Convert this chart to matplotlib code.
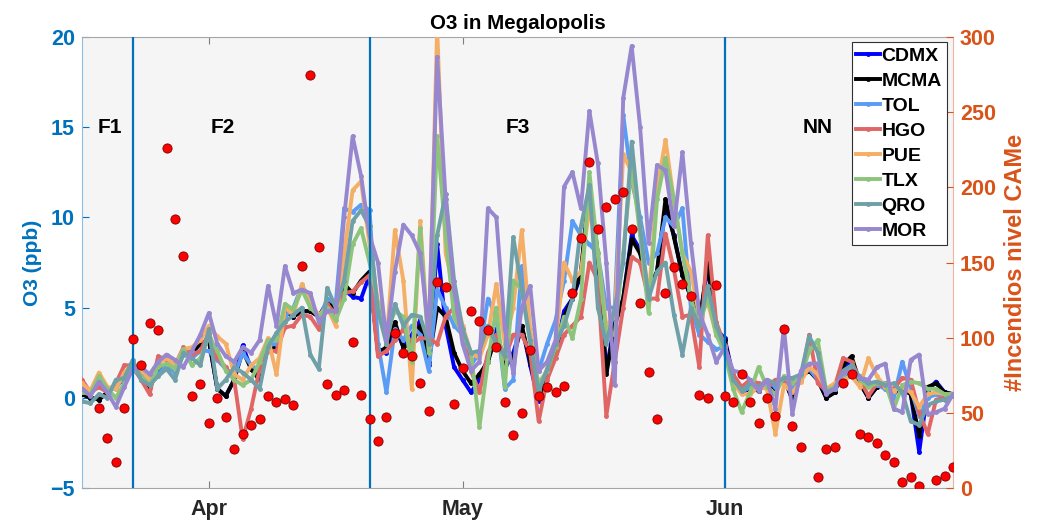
import numpy as np
import pandas as pd
import matplotlib
matplotlib.use("Agg")
import matplotlib.pyplot as plt

plt.rcParams['font.family'] = ['Liberation Sans', 'DejaVu Sans']
plt.rcParams['font.weight'] = 'bold'

# ---- data -----------------------------------------------------------------
start_date = "2019-03-17"
n_days = 104

CDMX = [0.2, 0.0, -0.1, 0.3, 0.7, 1.0, 1.6, 1.2, 0.6, 1.5, 1.8, 1.6, 2.6, 2.5, 3.0, 3.2,
        0.5, 0.1, 1.0, 2.9, 1.6, 1.0, 2.8, 2.8, 4.8, 4.5, 4.8, 4.8, 4.5, 5.3, 5.0, 6.0,
        5.6, 5.5, 6.8, 2.7, 2.5, 4.0, 2.8, 3.5, 4.3, 1.8, 8.5, 4.0, 1.7, 1.0, 0.3, 1.0,
        2.2, 3.8, 1.6, 2.5, 4.0, 1.8, -0.2, 1.2, 2.5, 4.8, 5.5, 6.8, 11.5, 7.5, 1.5, 4.2,
        5.5, 9.0, 8.2, 6.0, 7.0, 10.5, 9.0, 6.8, 5.6, 4.1, 7.3, 3.8, 3.3, 1.2, 0.5, 0.5,
        0.4, 0.8, 0.5, 1.1, -0.1, 1.2, 1.5, 1.0, 0.0, 0.3, 1.6, 2.0, 0.8, 0.0, 0.6, 0.8,
        0.3, 0.5, 0.2, -3.0, 0.4, 0.9, 0.3, 0.2]
MCMA = [0.2, 0.0, -0.1, 0.3, 0.7, 1.0, 1.6, 1.2, 0.6, 1.5, 1.8, 1.6, 2.6, 2.5, 3.0, 3.2,
        0.5, 0.1, 1.0, 2.6, 1.6, 1.0, 2.8, 2.8, 4.8, 4.5, 4.8, 4.8, 4.5, 5.3, 5.0, 6.3,
        5.8, 6.5, 7.0, 2.5, 2.8, 4.2, 2.8, 3.0, 4.0, 2.0, 5.0, 4.5, 2.5, 1.5, 0.8, 1.3,
        2.0, 3.5, 2.0, 2.2, 4.0, 2.0, 0.0, 1.2, 2.5, 4.5, 5.5, 7.0, 11.8, 8.0, 1.3, 4.0,
        5.5, 8.8, 8.0, 6.0, 7.0, 11.0, 8.9, 6.8, 5.6, 4.1, 7.5, 3.6, 3.2, 1.0, 0.3, 0.5,
        0.4, 0.8, 0.5, 1.1, -0.1, 1.2, 1.5, 1.0, 0.0, 0.3, 1.8, 2.3, 0.8, 0.0, 0.6, 0.8,
        0.3, 0.5, 0.2, -2.1, 0.6, 0.8, 0.3, 0.2]
TOL = [0.5, 0.3, 0.8, 0.5, 0.5, 1.2, 1.7, 1.0, 0.9, 1.3, 1.8, 1.4, 2.4, 2.2, 2.6, 2.6,
       2.1, 1.6, 1.2, 2.5, 1.8, 1.5, 2.9, 3.0, 4.5, 5.0, 6.2, 5.5, 4.3, 5.5, 5.2, 10.5,
       10.3, 10.7, 10.4, 3.0, 0.3, 3.8, 3.2, 4.0, 3.5, 1.5, 6.0, 5.0, 4.0, 3.5, 1.8, 2.5,
       5.5, 4.5, 0.5, 1.0, 7.3, 3.5, 1.5, 3.0, 4.3, 6.5, 9.8, 9.0, 8.5, 8.0, 5.0, 5.0,
       15.7, 12.0, 10.0, 7.5, 8.0, 10.0, 9.5, 10.5, 5.0, 3.5, 3.1, 2.7, 2.8, 1.0, 0.3, 0.6,
       0.5, 0.9, 0.6, 1.0, 0.5, 1.2, 1.6, 1.0, 0.3, 0.5, 1.2, 1.5, 1.2, 0.8, 0.7, 0.5,
       0.0, 2.0, 0.5, -1.0, 0.0, 0.2, 0.0, 0.2]
HGO = [1.0, 0.3, 0.6, 0.3, 0.8, 1.8, 1.8, 1.0, 0.2, 2.3, 2.1, 1.8, 2.8, 2.4, 2.6, 3.6,
       2.2, 1.7, 1.0, -2.3, -0.6, 1.6, 2.6, 2.6, 3.9, 4.0, 4.6, 4.5, 3.8, 5.2, 4.6, 5.8,
       5.9, 6.4, 6.8, 2.3, 2.6, 3.2, 3.8, 3.0, 3.3, 3.3, 3.0, 4.5, 5.0, 3.5, 1.5, 0.3,
       2.5, 3.5, 2.2, 3.5, 3.5, 2.5, -1.3, 1.0, 2.2, 3.5, 4.0, 4.5, 7.5, 6.5, -1.0, 2.0,
       5.0, 7.8, 7.5, 5.5, 5.5, 9.1, 7.1, 4.5, 4.6, 1.7, 9.0, 4.2, 2.9, 1.3, 0.6, 1.0,
       0.8, 0.6, 1.0, 1.0, 0.8, 1.0, 3.5, 0.8, 0.4, 0.6, 2.2, 2.0, 1.0, 0.1, 0.8, 0.6,
       0.5, 1.1, 1.0, -0.8, -2.0, -0.1, 0.0, 0.2]
PUE = [0.8, 0.4, 1.4, 0.6, 0.5, 1.4, 1.9, 1.5, 1.0, 1.9, 2.2, 1.8, 2.7, 2.8, 3.2, 4.0,
       3.4, 3.0, 1.3, 1.0, 1.8, 2.2, 3.3, 1.3, 5.0, 4.6, 6.3, 5.2, 4.6, 5.0, 4.0, 8.0,
       11.5, 12.0, 8.5, 5.3, 3.0, 9.3, 6.5, 0.5, 9.8, 2.8, 20.5, 8.0, 6.0, 4.0, 2.5, 2.2,
       3.5, 6.3, 3.0, 5.0, 9.3, 3.8, 0.5, 1.6, 3.0, 7.5, 6.5, 7.0, 10.5, 8.0, 4.0, 4.5,
       13.5, 12.5, 9.5, 5.5, 11.5, 14.3, 10.9, 8.0, 7.0, 4.5, 5.3, 3.5, 2.8, 0.8, 0.2, 0.2,
       0.6, 0.5, -2.0, 0.7, 0.3, 0.9, 1.7, 1.3, 0.5, 0.8, 1.0, 1.2, 0.6, 2.2, 1.2, 0.6,
       0.4, 0.6, 0.3, -0.5, 0.2, 0.3, 0.2, 0.2]
TLX = [0.3, 0.2, 1.2, 0.5, 0.0, 0.8, 1.7, 1.2, 0.7, 1.7, 1.9, 1.6, 2.7, 1.8, 2.2, 3.4,
       2.6, 1.5, 1.0, 0.7, 1.0, 2.0, 3.2, 3.2, 5.2, 4.9, 6.0, 5.0, 4.5, 5.0, 4.3, 5.5,
       8.5, 9.4, 7.5, 5.2, 3.6, 4.8, 4.5, 2.0, 9.4, 2.5, 14.5, 9.0, 4.5, 3.5, 2.5, -1.6,
       2.0, 5.0, 0.6, 6.5, 6.0, 3.0, 0.8, 1.5, 2.8, 4.5, 3.3, 5.5, 12.5, 8.0, 3.5, 3.5,
       8.0, 13.0, 9.0, 4.7, 11.0, 13.3, 11.0, 8.0, 5.5, 4.0, 5.6, 3.5, 2.5, 0.5, -0.8, 0.3,
       1.7, 0.6, 0.2, 1.2, 0.8, 1.2, 2.6, 3.2, 0.4, 0.6, 1.3, 1.6, 1.0, 0.6, 0.8, 0.8,
       -0.6, 0.7, 0.9, 0.8, 0.5, 0.5, 0.2, 0.2]
QRO = [-0.2, -0.3, 0.2, 0.0, 1.0, 1.1, 2.1, 1.0, 0.7, 1.2, 1.6, 1.0, 2.5, 2.2, 1.8, 3.8,
       0.5, 1.0, 1.7, 1.4, 1.0, 0.5, 2.8, 3.6, 4.2, 4.6, 5.0, 2.4, 1.6, 6.1, 5.0, 6.5,
       9.8, 10.4, 9.5, 4.8, 3.0, 5.2, 4.0, 4.6, 4.5, 3.0, 9.0, 11.3, 6.5, 3.8, 2.5, 2.6,
       4.0, 3.0, 2.3, 8.9, 6.0, 3.2, 0.3, 1.6, 3.0, 4.0, 5.5, 9.5, 11.8, 5.0, 3.0, 5.0,
       7.5, 14.2, 9.5, 5.5, 7.0, 7.5, 4.6, 2.4, 5.0, 4.0, 6.2, 4.0, 2.8, 1.0, 0.4, 0.8,
       0.6, 1.0, 0.8, 1.1, 1.1, 1.3, 3.4, 2.5, 0.3, 0.5, 1.5, 1.8, 1.1, 0.8, 0.9, 0.7,
       0.8, 0.3, -1.3, -1.5, -0.4, -0.2, -0.1, 0.1]
MOR = [0.5, 0.1, 0.9, 0.3, -0.5, 0.6, 1.6, 1.7, 1.3, 2.0, 2.4, 2.1, 1.7, 2.6, 3.5, 4.7,
       3.0, 2.3, 2.0, 2.8, 2.5, 3.2, 6.2, 4.0, 7.3, 5.8, 6.0, 5.8, 4.2, 4.8, 4.8, 10.0,
       14.5, 12.3, 9.0, 7.5, 3.2, 7.0, 9.6, 9.0, 8.0, 3.5, 18.9, 11.0, 6.0, 3.0, 1.5, 2.0,
       10.5, 10.0, 3.8, 1.4, 5.0, 6.2, 1.5, 2.0, 3.2, 11.7, 12.5, 10.5, 15.9, 13.0, 7.5, 0.7,
       16.6, 19.5, 15.0, 8.6, 12.9, 12.6, 9.5, 13.6, 8.6, 4.7, 3.5, 2.0, 2.8, 1.5, 1.4, 1.0,
       0.4, 1.0, -0.6, 3.9, -0.9, 1.5, 1.9, 1.9, 0.2, 0.5, 1.4, 1.5, 1.1, 1.0, 1.7, 1.9,
       -0.6, -0.8, 2.1, 2.4, -0.9, -0.8, -0.6, 0.2]

# number of fires (right axis); NaN where no value is reported
fires = [np.nan, np.nan, 53, 33, 17, 53, 99, 82, 110, 105, 226, 179, 154, 61, 69, 43,
         60, 47, 26, 36, 42, 46, 61, 57, 59, 55, 148, 275, 160, 69, 62, 65,
         97, 62, 46, 31, 47, 103, 90, 88, 70, 51, 137, 134, 56, 80, 118, 111,
         105, 94, 57, 35, 50, 92, 61, 67, 64, 68, 130, 166, 217, 172, 187, 192,
         197, 172, 123, 77, 46, 130, 147, 136, 128, 62, 60, 135, 61, 57, 76, 57,
         43, 60, 48, 106, 41, 27, np.nan, 7, 26, 27, 70, 76, 36, 34, 30, 22,
         17, 4, 7, 1, np.nan, 5, 8, 14]

series_names = ["CDMX", "MCMA", "TOL", "HGO", "PUE", "TLX", "QRO", "MOR"]
series_values = [CDMX, MCMA, TOL, HGO, PUE, TLX, QRO, MOR]
series_colors = ["#0000FF", "#000000", "#5A9CF5", "#E06666", "#F5AE66",
                 "#8CC47C", "#6FA0A8", "#9787CF"]

phase_dates = ["2019-03-23", "2019-04-20", "2019-06-01"]
phase_labels = ["F1", "F2", "F3", "NN"]
phase_label_dates = ["2019-03-20 08:00", "2019-04-02 16:00", "2019-05-07 12:00", "2019-06-12"]

month_ticks = ["2019-04-01", "2019-05-01", "2019-06-01"]
month_labels = ["Apr", "May", "Jun"]

# ---- figure ---------------------------------------------------------------
dates = pd.date_range(start_date, periods=n_days, freq="D")

fig = plt.figure(figsize=(10.51, 5.31), dpi=100)
ax = fig.add_axes([82 / 1051, 1 - 488 / 531, 871 / 1051, 451 / 531])
ax.set_facecolor("#F5F5F5")

left_color = "#0072BD"
right_color = "#D95319"

handles = []
for name, vals, col in zip(series_names, series_values, series_colors):
    h, = ax.plot(dates, vals, color=col, lw=2.8, marker=".", ms=5,
                 solid_joinstyle="round", label=name, zorder=3)
    handles.append(h)

for d in phase_dates:
    ax.axvline(pd.Timestamp(d), color=left_color, lw=1.6, zorder=4)

for lab, d in zip(phase_labels, phase_label_dates):
    ax.text(pd.Timestamp(d), 15, lab, fontsize=15, fontweight="bold",
            ha="center", va="center", color="black", zorder=5)

ax.set_xlim(pd.Timestamp("2019-03-17"), pd.Timestamp("2019-06-28"))
ax.set_ylim(-5, 20)
ax.set_yticks([-5, 0, 5, 10, 15, 20])
ax.set_xticks([pd.Timestamp(d) for d in month_ticks])
ax.set_xticklabels(month_labels)
ax.tick_params(axis="x", direction="in", length=5, top=True, labelsize=15.5,
               labelcolor="#262626", color="#7F7F7F", pad=8)
ax.tick_params(axis="y", direction="in", length=5, labelsize=15.5,
               labelcolor=left_color, color=left_color, pad=5)
for t in ax.get_xticklabels() + ax.get_yticklabels():
    t.set_fontweight("bold")
ax.set_ylabel("O3 (ppb)", color=left_color, fontsize=15, fontweight="bold",
              labelpad=6)
ax.spines["left"].set_color("#8DBDE0")
ax.spines["right"].set_color("#EFB49A")
ax.spines["top"].set_color("#A6A6A6")
ax.spines["bottom"].set_color("#A6A6A6")

ax2 = ax.twinx()
ax2.scatter(dates, fires, s=44, facecolor="#FF0000", edgecolor="#7A0000",
            linewidth=0.6, zorder=6)
ax2.set_ylim(0, 300)
ax2.set_yticks([0, 50, 100, 150, 200, 250, 300])
ax2.tick_params(axis="y", direction="in", length=5, labelsize=15.5,
                labelcolor=right_color, color=right_color, pad=5)
for t in ax2.get_yticklabels():
    t.set_fontweight("bold")
ax2.set_ylabel("#Incendios nivel CAMe", color=right_color, fontsize=17,
               fontweight="bold", labelpad=6)
for s in ["left", "right", "top", "bottom"]:
    ax2.spines[s].set_visible(False)

leg = ax2.legend(handles=handles, loc="upper right", bbox_to_anchor=(0.993, 0.988),
                 borderaxespad=0, handlelength=1.2,
                 handletextpad=0.1, labelspacing=0.38, borderpad=0.25,
                 frameon=True, fancybox=False, framealpha=1, edgecolor="#303030",
                 prop={"weight": "bold", "size": 14})
leg.get_frame().set_linewidth(0.8)
leg.set_zorder(10)

ax.set_title("O3 in Megalopolis", fontsize=14.8, fontweight="bold", pad=6)

fig.savefig("out.png", dpi=100)
